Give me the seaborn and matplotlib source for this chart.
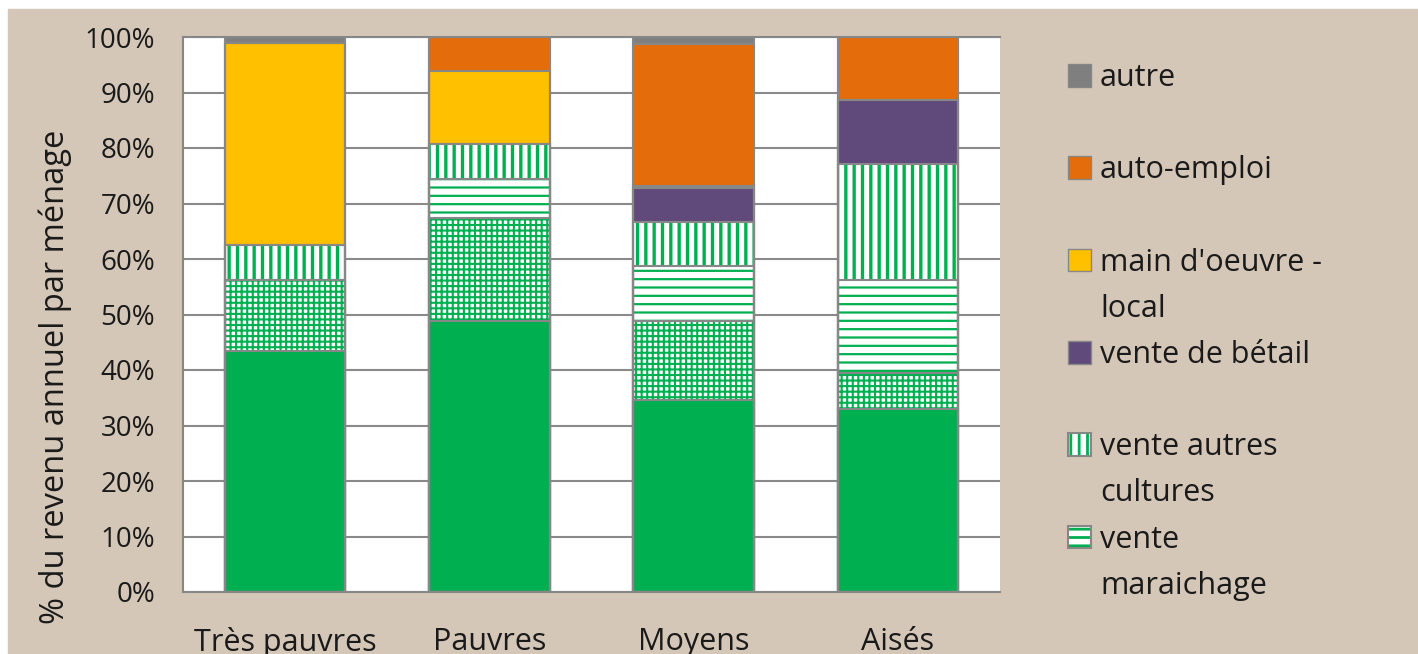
import numpy as np
import matplotlib
matplotlib.use("Agg")
import matplotlib.pyplot as plt
import matplotlib.patches as mpatches
from matplotlib.legend_handler import HandlerTuple
import seaborn as sns

# Catégories de ménages
categories = ["Très pauvres", "Pauvres", "Moyens", "Aisés"]

# Séries (% du revenu annuel), de bas en haut de la pile
# les deux premières n'apparaissent pas dans la légende visible (coupée)
vert_plein = [43.5, 48.9, 34.6, 32.9]
vert_damier = [12.7, 18.5, 14.3, 6.6]
vente_maraichage = [0.0, 7.0, 9.8, 16.7]
vente_autres_cultures = [6.4, 6.3, 8.0, 20.9]
vente_betail = [0.0, 0.0, 6.1, 11.5]
main_oeuvre_local = [36.4, 13.2, 0.4, 0.0]
auto_emploi = [0.0, 6.1, 25.5, 11.4]
autre = [1.0, 0.0, 1.3, 0.0]

GREEN = "#00b050"
ORANGE = "#e46c0a"
YELLOW = "#ffc000"
PURPLE = "#604a7b"
GREY = "#7f7f7f"
EDGE = "#878787"
BG = "#d4c7b8"
TXT = "#1a1a1a"

sns.set_style("white")
plt.rcParams["font.family"] = ["Open Sans", "DejaVu Sans"]
plt.rcParams["hatch.linewidth"] = 2.0

# (valeurs, couleur de fond, motif, épaisseur du motif)
series = [
    (vert_plein, GREEN, None, 0),
    (vert_damier, "white", "+++", 1.5),
    (vente_maraichage, "white", "--", 1.6),
    (vente_autres_cultures, "white", "||", 2.4),
    (vente_betail, PURPLE, None, 0),
    (main_oeuvre_local, YELLOW, None, 0),
    (auto_emploi, ORANGE, None, 0),
    (autre, GREY, None, 0),
]
cum = np.cumsum([s[0] for s in series], axis=0)

fig = plt.figure(figsize=(14.18, 6.54), dpi=100, facecolor="white")
fig.patches.append(mpatches.Rectangle((8 / 1418, 0), 1, (654 - 9) / 654,
                                      transform=fig.transFigure, color=BG, zorder=-10))
ax = fig.add_axes([183 / 1418, 1 - 592 / 654, 817 / 1418, 555 / 654])
ax.set_facecolor("white")

# empilement : on trace les cumuls du plus haut au plus bas
for i in reversed(range(len(series))):
    vals, face, hatch, hlw = series[i]
    n0 = len(ax.patches)
    sns.barplot(x=categories, y=cum[i], color=face, saturation=1, width=0.59, ax=ax)
    for p in ax.patches[n0:]:
        p.set_facecolor(face)
        p.set_linewidth(0)
        if hatch:
            p.set_edgecolor(GREEN)
            p.set_hatch(hatch)
            if hasattr(p, "set_hatch_linewidth"):
                p.set_hatch_linewidth(hlw)
        else:
            p.set_edgecolor(face)
        p.set_zorder(2)

# contours gris des segments
for p in list(ax.patches):
    ax.add_patch(mpatches.Rectangle(p.get_xy(), p.get_width(), p.get_height(),
                                    fill=False, edgecolor=EDGE, lw=1.5, zorder=3))

ax.set_xlim(-0.5, 3.5)
ax.set_ylim(0, 100)
ax.set_yticks(np.arange(0, 101, 10))
ax.set_yticklabels([f"{v}%" for v in range(0, 101, 10)])
ax.set_axisbelow(True)
ax.yaxis.grid(True, color="#8a8a8a", lw=1.5)
ax.xaxis.grid(False)

ax.set_xticks(range(len(categories)))
ax.set_xticklabels(categories)
ax.set_xticks(np.arange(-0.5, 4, 1), minor=True)
ax.tick_params(axis="x", which="major", length=0, pad=25, labelsize=22, labelcolor=TXT)
ax.tick_params(axis="x", which="minor", length=8, width=1.5, color=EDGE)
ax.tick_params(axis="y", length=8, width=1.5, color=EDGE, pad=12, labelsize=20, labelcolor=TXT)
ax.set_xlabel("")
ax.set_ylabel("% du revenu annuel par ménage", fontsize=23.5, color=TXT)
ax.yaxis.set_label_coords(-0.136, 0.387)

for side in ["left", "bottom", "top"]:
    ax.spines[side].set_visible(True)
    ax.spines[side].set_color(EDGE)
    ax.spines[side].set_linewidth(1.5)
ax.spines["right"].set_visible(False)


def hatched(h):
    return (mpatches.Patch(facecolor="white", edgecolor=GREEN, hatch=h, lw=0),
            mpatches.Patch(fill=False, edgecolor=EDGE, lw=1.5))


handles = [
    mpatches.Patch(facecolor=GREY, edgecolor=EDGE, lw=1),
    mpatches.Patch(facecolor=ORANGE, edgecolor=EDGE, lw=1),
    mpatches.Patch(facecolor=YELLOW, edgecolor=EDGE, lw=1),
    mpatches.Patch(facecolor=PURPLE, edgecolor=EDGE, lw=1),
    hatched("||"),
    hatched("--"),
]
labels = ["autre", "auto-emploi", "main d'oeuvre -", "vente de bétail", "vente autres", "vente"]
second_lines = {2: "local", 4: "cultures", 5: "maraichage"}

leg = fig.legend(handles, labels, loc="upper left",
                 bbox_to_anchor=(1068 / 1418, 1 - 63 / 654), frameon=False,
                 fontsize=22, handlelength=0.75, handleheight=0.75, handletextpad=0.3,
                 labelspacing=2.04, borderpad=0, borderaxespad=0,
                 handler_map={tuple: HandlerTuple(ndivide=1)})
for t in leg.get_texts():
    t.set_color(TXT)
fig.canvas.draw()
texts = leg.get_texts()
for i, extra in second_lines.items():
    fig.add_artist(matplotlib.text.Annotation(
        extra, xy=(0, 0), xycoords=texts[i], xytext=(0, -28), textcoords="offset points",
        va="baseline", ha="left", fontsize=22, color=TXT, zorder=6))

fig.savefig("out.png", dpi=100, facecolor=fig.get_facecolor())
